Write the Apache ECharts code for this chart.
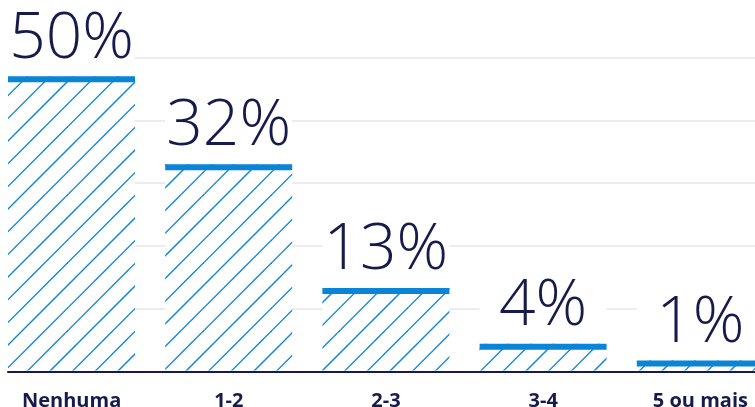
<!DOCTYPE html>
<html>
<head>
<meta charset="utf-8">
<script src="https://cdn.jsdelivr.net/npm/echarts@6/dist/echarts.min.js"></script>
<style>
html,body{margin:0;padding:0;background:#fff;}
#c{width:755px;height:407px;}
</style>
</head>
<body>
<div id="c"></div>
<script>
// Data
const categories = ['Nenhuma', '1-2', '2-3', '3-4', '5 ou mais'];
const barHeights = [47.0, 33.0, 13.3, 4.4, 1.75];
const valueLabels = ['50%', '32%', '13%', '4%', '1%'];
const yMin = 0, yMax = 50, yStep = 10;

const BLUE = '#0a84d6';
const NAVY = '#161b4b';

// hatch pattern (diagonal "/" lines), period 68/3 px
function makeHatch() {
  const s = 68, p = s / 3;
  const cv = document.createElement('canvas');
  cv.width = s; cv.height = s;
  const ctx = cv.getContext('2d');
  ctx.fillStyle = '#fff';
  ctx.fillRect(0, 0, s, s);
  ctx.strokeStyle = BLUE;
  ctx.lineWidth = 1.35;
  for (let n = -4; n <= 10; n++) {
    const k = 13 + n * p; // line x + y = k
    ctx.beginPath();
    ctx.moveTo(k + 10, -10);
    ctx.lineTo(-10, k + 10);
    ctx.stroke();
  }
  return cv;
}
const hatch = makeHatch();

const chart = echarts.init(document.getElementById('c'), null, {renderer: 'canvas'});
const BAR_W = 127;

chart.setOption({
  animation: false,
  backgroundColor: '#fff',
  grid: {left: 8, width: 786, top: 57.5, height: 314, containLabel: false, outerBoundsMode: 'none'},
  xAxis: {
    type: 'category',
    data: categories,
    axisLine: {show: true, lineStyle: {color: NAVY, width: 2}},
    axisTick: {show: false},
    axisLabel: {
      color: NAVY, fontFamily: 'Open Sans', fontWeight: 'bold', fontSize: 20,
      margin: 20, padding: [0, 30, 0, 0], interval: 0
    }
  },
  yAxis: {
    type: 'value', min: yMin, max: yMax, interval: yStep,
    axisLine: {show: false}, axisTick: {show: false}, axisLabel: {show: false},
    splitLine: {lineStyle: {color: '#ececec', width: 2}}
  },
  series: [{
    type: 'custom',
    clip: false,
    data: barHeights.map((v, i) => [i, v]),
    renderItem: function (params, api) {
      const i = api.value(0);
      const v = api.value(1);
      const base = api.coord([i, 0]);
      const top = api.coord([i, v]);
      const band = api.size([1, 0])[0];
      const x0 = base[0] - band / 2;
      const ty = top[1];
      return {
        type: 'group',
        children: [
          {type: 'rect', shape: {x: x0, y: ty - 72, width: BAR_W, height: 72}, style: {fill: '#fff'}},
          {type: 'rect', shape: {x: x0, y: ty, width: BAR_W, height: base[1] - 1 - ty},
            style: {fill: {image: hatch, repeat: 'repeat'}}},
          {type: 'rect', shape: {x: x0, y: ty, width: BAR_W, height: 6}, style: {fill: BLUE}},
          {type: 'text', style: {
            text: valueLabels[i], x: x0 + BAR_W / 2, y: ty - 5,
            fill: NAVY, font: '300 64px "Open Sans"',
            align: 'center', verticalAlign: 'bottom',
            textAlign: 'center', textVerticalAlign: 'bottom'
          }}
        ]
      };
    }
  }]
});
</script>
</body>
</html>
